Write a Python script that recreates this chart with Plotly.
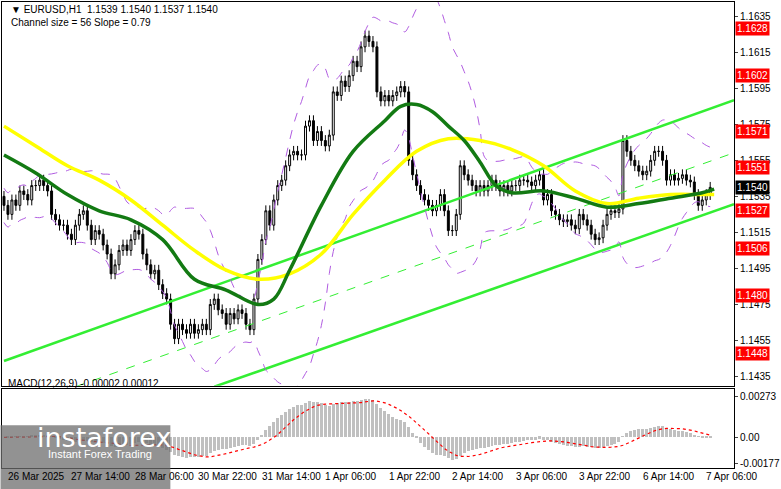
import numpy as np
import pandas as pd
import plotly.graph_objects as go
from plotly.subplots import make_subplots

# hourly closes, EURUSD H1
closes = [
  1.1530, 1.1525, 1.1533, 1.1530, 1.1538, 1.1536, 1.1533, 1.1541, 1.1541, 1.1544,
  1.1541, 1.1538, 1.1525, 1.1522, 1.1519, 1.1519, 1.1514, 1.1511, 1.1519, 1.1525,
  1.1527, 1.1519, 1.1511, 1.1516, 1.1514, 1.1508, 1.1503, 1.1492, 1.1497, 1.1505,
  1.1508, 1.1505, 1.1511, 1.1516, 1.1514, 1.1503, 1.1497, 1.1492, 1.1494, 1.1486,
  1.1481, 1.1478, 1.1464, 1.1456, 1.1464, 1.1461, 1.1459, 1.1464, 1.1459, 1.1461,
  1.1464, 1.1461, 1.1475, 1.1478, 1.1472, 1.1470, 1.1464, 1.1470, 1.1467, 1.1472,
  1.1470, 1.1464, 1.1461, 1.1478, 1.1500, 1.1511, 1.1527, 1.1519, 1.1533, 1.1541,
  1.1544, 1.1552, 1.1558, 1.1560, 1.1558, 1.1558, 1.1574, 1.1577, 1.1566, 1.1571,
  1.1566, 1.1563, 1.1569, 1.1593, 1.1591, 1.1599, 1.1596, 1.1602, 1.1610, 1.1607,
  1.1618, 1.1624, 1.1621, 1.1618, 1.1593, 1.1588, 1.1591, 1.1588, 1.1591, 1.1593,
  1.1596, 1.1593, 1.1555, 1.1547, 1.1541, 1.1536, 1.1533, 1.1530, 1.1527, 1.1530,
  1.1536, 1.1527, 1.1516, 1.1516, 1.1525, 1.1552, 1.1547, 1.1544, 1.1541, 1.1538,
  1.1541, 1.1538, 1.1541, 1.1544, 1.1541, 1.1538, 1.1541, 1.1538, 1.1541, 1.1541,
  1.1544, 1.1544, 1.1543, 1.1541, 1.1544, 1.1547, 1.1533, 1.1536, 1.1527, 1.1525,
  1.1522, 1.1521, 1.1522, 1.1519, 1.1517, 1.1525, 1.1522, 1.1519, 1.1514, 1.1511,
  1.1512, 1.1519, 1.1525, 1.1527, 1.1526, 1.1528, 1.1566, 1.1560, 1.1555, 1.1552,
  1.1549, 1.1547, 1.1549, 1.1555, 1.1560, 1.1560, 1.1555, 1.1544, 1.1547, 1.1544,
  1.1545, 1.1547, 1.1544, 1.1543, 1.1536, 1.1530, 1.1533, 1.1536, 1.1540,
]
first_open = 1.1535
wick = 0.0003

# moving averages read at sample bars
yellow_bars = [0, 8, 16, 24, 32, 40, 48, 56, 64, 72, 80, 88, 96, 104, 112, 120, 128, 136, 144, 152, 160, 168, 176, 179]
yellow_ma = [1.1574, 1.1563, 1.1552, 1.1544, 1.1533, 1.1519, 1.1505, 1.1494, 1.1489, 1.1492, 1.1503, 1.1525,
             1.1544, 1.1560, 1.1567, 1.1566, 1.1561, 1.1552, 1.1538, 1.1531, 1.1534, 1.1536, 1.1536, 1.1536]
green_bars = [0, 8, 16, 24, 32, 40, 48, 56, 64, 68, 72, 80, 88, 96, 100, 104, 108, 112, 116, 120, 124, 128,
              136, 144, 152, 160, 168, 176, 179]
green_ma = [1.1558, 1.1548, 1.1536, 1.1527, 1.1522, 1.1511, 1.1489, 1.1483, 1.1475, 1.1478, 1.1494, 1.1530,
            1.1560, 1.1577, 1.1585, 1.1586, 1.1582, 1.1574, 1.1566, 1.1554, 1.1541, 1.1537, 1.1538, 1.1534,
            1.1529, 1.1531, 1.1534, 1.1537, 1.1539]

# channel lines: (bar0, price0, bar1, price1)
channel_upper = (0, 1.14436, 184, 1.15884)
channel_lower = (53, 1.14293, 184, 1.15306)
channel_mid = (18, 1.14293, 184, 1.15592)

levels = [1.1628, 1.1602, 1.1571, 1.1551, 1.1527, 1.1506, 1.1480, 1.1448]
price_ticks = [1.1635, 1.1615, 1.1595, 1.1575, 1.1555, 1.1535, 1.1515, 1.1495, 1.1475, 1.1455, 1.1435]
time_labels = ["26 Mar 2025", "27 Mar 14:00", "28 Mar 06:00", "30 Mar 22:00", "31 Mar 14:00", "1 Apr 06:00",
               "1 Apr 22:00", "2 Apr 14:00", "3 Apr 06:00", "3 Apr 22:00", "6 Apr 14:00", "7 Apr 06:00"]
macd_ticks = [0.00273, 0.0, -0.00177]
macd_tick_text = ["0.00273", "0.00", "-0.00177"]

c = np.array(closes)
n = len(c)
bars = np.arange(n)
o = np.concatenate([[first_open], c[:-1]])
h = np.maximum(o, c) + wick
l = np.minimum(o, c) - wick

s = pd.Series(c)
bb_mid = s.rolling(20, min_periods=1).mean()
bb_std = s.rolling(20, min_periods=5).std().bfill()
macd = s.ewm(span=12).mean() - s.ewm(span=26).mean()
signal = macd.rolling(9, min_periods=1).mean()

FONT = "Liberation Sans"
FS = 10
fig = make_subplots(rows=2, cols=1, shared_xaxes=True, row_heights=[0.83, 0.17], vertical_spacing=0.008)

for p in price_ticks:
  fig.add_hline(y=p, line=dict(color="#c8c8c8", width=1, dash="dash"), row=1, col=1)
for b in np.arange(0.5, 186, 8):
  fig.add_vline(x=b, line=dict(color="#c8c8c8", width=1, dash="dash"), row="all", col=1)
for b in np.arange(2.5, 186, 24):
  fig.add_vline(x=b, line=dict(color="black", width=1, dash="dash"), row="all", col=1)

for lv in levels:
  fig.add_hline(y=lv, line=dict(color="#ff0000", width=2.5), row=1, col=1)
fig.add_hline(y=1.1543, line=dict(color="#ff4500", width=1), row=1, col=1)
fig.add_hline(y=1.1540, line=dict(color="#b0b0b0", width=1), row=1, col=1)

for (b0, p0, b1, p1), dash, w in [(channel_upper, "solid", 2.5), (channel_lower, "solid", 2.5), (channel_mid, "dash", 1)]:
  fig.add_trace(go.Scatter(x=[b0, b1], y=[p0, p1], mode="lines", line=dict(color="#33ee33", width=w, dash=dash),
                           showlegend=False, hoverinfo="skip"), row=1, col=1)

for band in [bb_mid + 2 * bb_std, bb_mid - 2 * bb_std]:
  fig.add_trace(go.Scatter(x=bars, y=band, mode="lines", line=dict(color="#b05ce0", width=1, dash="dash", shape="spline"),
                           showlegend=False, hoverinfo="skip"), row=1, col=1)

fig.add_trace(go.Scatter(x=yellow_bars, y=yellow_ma, mode="lines", line=dict(color="#ffff00", width=3.5, shape="spline"),
                         showlegend=False), row=1, col=1)
fig.add_trace(go.Scatter(x=green_bars, y=green_ma, mode="lines", line=dict(color="#137a13", width=3.5, shape="spline"),
                         showlegend=False), row=1, col=1)

fig.add_trace(go.Candlestick(x=bars, open=o, high=h, low=l, close=c, whiskerwidth=0,
                             increasing=dict(line=dict(color="black", width=1), fillcolor="white"),
                             decreasing=dict(line=dict(color="black", width=1), fillcolor="black"),
                             showlegend=False), row=1, col=1)

fig.add_hline(y=0, line=dict(color="#a0a0a0", width=1, dash="dash"), row=2, col=1)
fig.add_trace(go.Bar(x=bars, y=macd, marker=dict(color="#c0c0c0", line=dict(width=0)), width=0.75, showlegend=False), row=2, col=1)
fig.add_trace(go.Scatter(x=bars, y=signal, mode="lines", line=dict(color="#ff0000", width=1.2, dash="dot"), showlegend=False),
              row=2, col=1)

fig.update_xaxes(range=[-0.5, 184], showgrid=False, showticklabels=False, zeroline=False,
                 showline=True, linecolor="black", mirror=True, rangeslider_visible=False)
fig.update_yaxes(range=[1.14299, 1.16429], side="right", tickvals=price_ticks, tickformat=".4f",
                 showgrid=False, ticks="outside", ticklen=3, tickfont=dict(family=FONT, size=FS, color="black"),
                 showline=True, linecolor="black", mirror=True, row=1, col=1)
fig.update_yaxes(range=[-0.00205, 0.00321], side="right", tickvals=macd_ticks, ticktext=macd_tick_text,
                 showgrid=False, zeroline=False, ticks="outside", ticklen=3, tickfont=dict(family=FONT, size=FS, color="black"),
                 showline=True, linecolor="black", mirror=True, row=2, col=1)

ann = []
for lv in levels:
  ann.append(dict(x=1.002, xref="paper", y=lv, yref="y", text=f"{lv:.4f}", showarrow=False, xanchor="left",
                  bgcolor="#ff0000", font=dict(family=FONT, size=FS, color="white"), borderpad=1))
ann.append(dict(x=1.002, xref="paper", y=1.1540, yref="y", text="1.1540", showarrow=False, xanchor="left",
                bgcolor="black", font=dict(family=FONT, size=FS, color="white"), borderpad=1))
for i, t in enumerate(time_labels):
  ann.append(dict(x=0.5 + 16 * i, xref="x2", y=-0.003, yref="paper", text=t, showarrow=False, xanchor="left",
                  yanchor="top", font=dict(family=FONT, size=FS, color="black")))
ann.append(dict(x=0.01, xref="paper", y=0.999, yref="paper", text="▼ EURUSD,H1  1.1539 1.1540 1.1537 1.1540",
                showarrow=False, xanchor="left", yanchor="top", font=dict(family=FONT, size=FS, color="black")))
ann.append(dict(x=0.01, xref="paper", y=0.972, yref="paper", text="Channel size = 56 Slope = 0.79",
                showarrow=False, xanchor="left", yanchor="top", font=dict(family=FONT, size=FS, color="black")))
ann.append(dict(x=0.005, xref="paper", y=0.197, yref="paper", text="MACD(12,26,9) -0.00002 0.00012",
                showarrow=False, xanchor="left", yanchor="top", font=dict(family=FONT, size=10, color="black")))
ann.append(dict(x=0.045, xref="paper", y=0.065, yref="paper", text="instaforex",
                showarrow=False, xanchor="left", yanchor="middle", font=dict(family="DejaVu Sans", size=27, color="white")))
ann.append(dict(x=0.06, xref="paper", y=0.012, yref="paper", text="Instant Forex Trading",
                showarrow=False, xanchor="left", yanchor="bottom", font=dict(family=FONT, size=11, color="white")))

fig.update_layout(
  width=781, height=489, margin=dict(l=1, r=43, t=1, b=21),
  paper_bgcolor="white", plot_bgcolor="white", annotations=ann, bargap=0,
  shapes=[dict(type="rect", xref="paper", yref="paper", x0=-0.002, x1=0.23, y0=-0.045, y1=0.092,
               fillcolor="rgba(110,110,110,0.75)", line=dict(width=0))],
)

fig.write_html("out.html", config={"displayModeBar": False}, post_script="document.body.style.margin='0';")
